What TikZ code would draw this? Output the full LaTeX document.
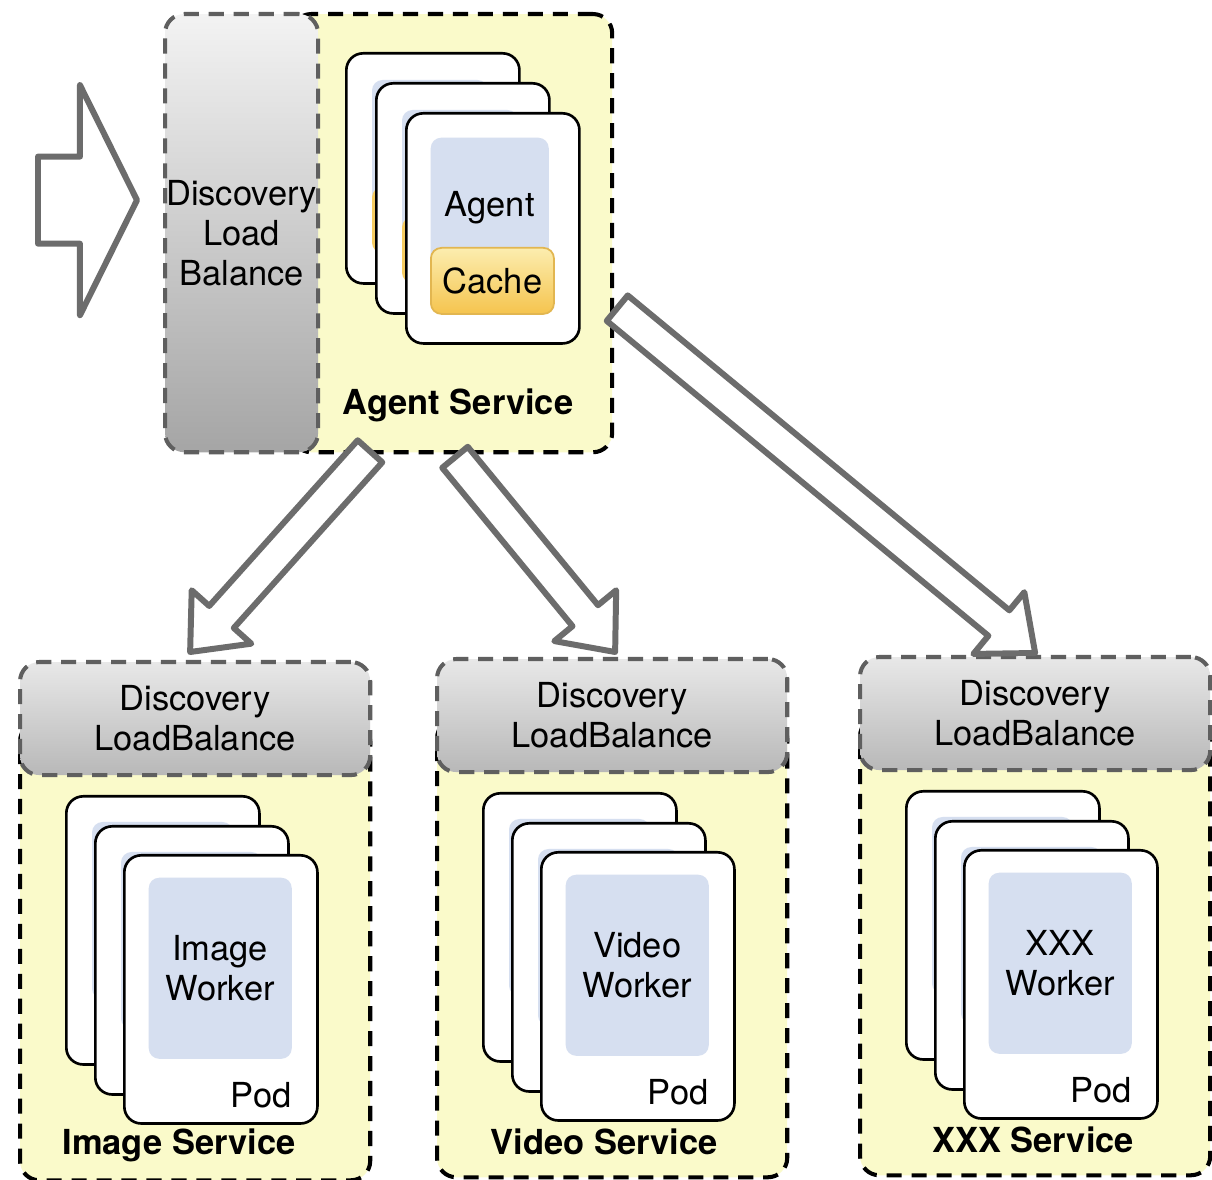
\documentclass[tikz,border=0pt]{standalone}
\usepackage{fontspec}
\setmainfont{TeX Gyre Heros}
\usetikzlibrary{calc}
\definecolor{ybg}{RGB}{250,250,202}
\definecolor{dgray}{RGB}{95,95,95}
\definecolor{hdrtop}{RGB}{232,232,232}
\definecolor{hdrbot}{RGB}{184,184,184}
\definecolor{coltop}{RGB}{243,243,243}
\definecolor{colbot}{RGB}{165,165,165}
\definecolor{pblue}{RGB}{214,223,240}
\definecolor{ctop}{RGB}{252,237,175}
\definecolor{cbot}{RGB}{245,196,78}
\definecolor{cbord}{RGB}{226,182,80}
\definecolor{agray}{RGB}{108,108,108}
\tikzset{
 txt/.style={font=\fontsize{9.8pt}{11.4pt}\selectfont, align=center},
 ttl/.style={font=\fontsize{9.8pt}{11.4pt}\selectfont\bfseries},
 dsh/.style={dash pattern=on 4.3pt off 2.8pt, line width=1.15pt},
 svcbox/.style={rectangle, anchor=north west, inner sep=0pt, draw=black, dsh, fill=ybg, rounded corners=5.5pt},
 hdrbox/.style={rectangle, anchor=north west, inner sep=0pt, draw=dgray, dsh, top color=hdrtop, bottom color=hdrbot, rounded corners=5.5pt, txt},
 colbox/.style={rectangle, anchor=north west, inner sep=0pt, draw=dgray, dsh, top color=coltop, bottom color=colbot, rounded corners=5.5pt, txt},
 pod/.style={rectangle, anchor=north west, inner sep=0pt, draw=black, line width=0.75pt, fill=white, rounded corners=4.8pt},
 panel/.style={rectangle, anchor=north west, inner sep=0pt, fill=pblue, rounded corners=3pt, txt},
 cachebox/.style={rectangle, anchor=north west, inner sep=0pt, draw=cbord, line width=0.5pt, top color=ctop, bottom color=cbot, rounded corners=3pt, txt},
 barrow/.style={draw=agray, line width=1.7pt, fill=white, line join=round},
}
% block arrow: #1 start, #2 tip, #3 shaft half width, #4 head half width, #5 head length
\newcommand\blockarrow[5]{%
 \draw[barrow] let \p1=($(#2)-(#1)$), \n1={atan2(\y1,\x1)} in
  ($(#1)+({\n1+90}:#3)$) --
  ($(#2)+({\n1+180}:#5)+({\n1+90}:#3)$) --
  ($(#2)+({\n1+180}:#5)+({\n1+90}:#4)$) --
  (#2) --
  ($(#2)+({\n1+180}:#5)+({\n1-90}:#4)$) --
  ($(#2)+({\n1+180}:#5)+({\n1-90}:#3)$) --
  ($(#1)+({\n1-90}:#3)$) -- cycle;}
% service: #1 name, #2 x, #3 y, #4 worker kind, #5 title, #6 title x
\newcommand\service[6]{%
 \begin{scope}[shift={(#2,#3)}]
  \node[svcbox, minimum width=3.5cm, minimum height=4.58cm] (#1) at (0,60) {};
  \node[hdrbox, minimum width=3.5cm, minimum height=1.13cm] (#1hdr) at (0,0) {Discovery\\LoadBalance};
  \node[pod, minimum width=1.93cm, minimum height=2.68cm] (#1p1) at (47,135) {};
  \fill[pblue, rounded corners=3pt] (74,162) rectangle (215,339);
  \node[pod, minimum width=1.93cm, minimum height=2.68cm] (#1p2) at (76,165) {};
  \fill[pblue, rounded corners=3pt] (103,192) rectangle (244,369);
  \node[pod, minimum width=1.93cm, minimum height=2.68cm] (#1p3) at (105,194) {};
  \node[panel, minimum width=1.43cm, minimum height=1.81cm] (#1w) at (130,217) {#4\\Worker};
  \node[txt, anchor=east, inner sep=0pt] (#1pod) at (274,435) {Pod};
  \node[ttl] (#1t) at (#6,485) {#5};
 \end{scope}}
\begin{document}
\begin{tikzpicture}[x=0.01cm, y=-0.01cm]
\useasboundingbox (0,0) rectangle (1212,1180);
\fill[white] (0,0) rectangle (1212,1180);

% Agent service
\node[svcbox, minimum width=3.2cm, minimum height=4.38cm] (agent) at (290,12) {};
\node[colbox, minimum width=1.53cm, minimum height=4.38cm] (disc) at (163,12) {Discovery\\Load\\Balance};
\node[pod, minimum width=1.73cm, minimum height=2.30cm] (ap1) at (345,52) {};
\fill[pblue, rounded corners=3pt] (372,80) rectangle (488,217);
\fill[cbot!80!ctop, rounded corners=3pt] (372,187) rectangle (493,253);
\node[pod, minimum width=1.73cm, minimum height=2.30cm] (ap2) at (375,82) {};
\fill[pblue, rounded corners=3pt] (402,110) rectangle (518,247);
\fill[cbot!80!ctop, rounded corners=3pt] (402,217) rectangle (523,283);
\node[pod, minimum width=1.73cm, minimum height=2.30cm] (ap3) at (405,112) {};
\node[panel, minimum width=1.18cm, minimum height=1.40cm] (agentp) at (430,137) {Agent};
\node[cachebox, minimum width=1.23cm, minimum height=0.66cm] (cache) at (430,247) {Cache};
\node[ttl] (agentt) at (458,405) {Agent Service};

% Worker services
\service{img}{18}{660}{Image}{Image Service}{161}
\service{vid}{435}{657}{Video}{Video Service}{169}
\service{xxx}{858}{655}{XXX}{XXX Service}{175}

% connectors
\coordinate (inS) at ($(disc.west)+(-125,-33)$);
\coordinate (inT) at ($(disc.west)+(-26,-33)$);
\blockarrow{inS}{inT}{0.435cm}{1.15cm}{0.57cm}

\coordinate (a1S) at ($(agent.south west)+(80,-3)$);
\coordinate (a1T) at ($(imghdr.north)+(-5,-8)$);
\blockarrow{a1S}{a1T}{0.165cm}{0.40cm}{0.47cm}

\coordinate (a2S) at ($(agent.south west)+(165,3)$);
\coordinate (a2T) at ($(vidhdr.north)+(3,-5)$);
\blockarrow{a2S}{a2T}{0.165cm}{0.40cm}{0.47cm}

\coordinate (a3S) at ($(agent.east)+(3,75)$);
\coordinate (a3T) at ($(xxxhdr.north)+(0,-2)$);
\blockarrow{a3S}{a3T}{0.165cm}{0.40cm}{0.47cm}
\end{tikzpicture}
\end{document}
